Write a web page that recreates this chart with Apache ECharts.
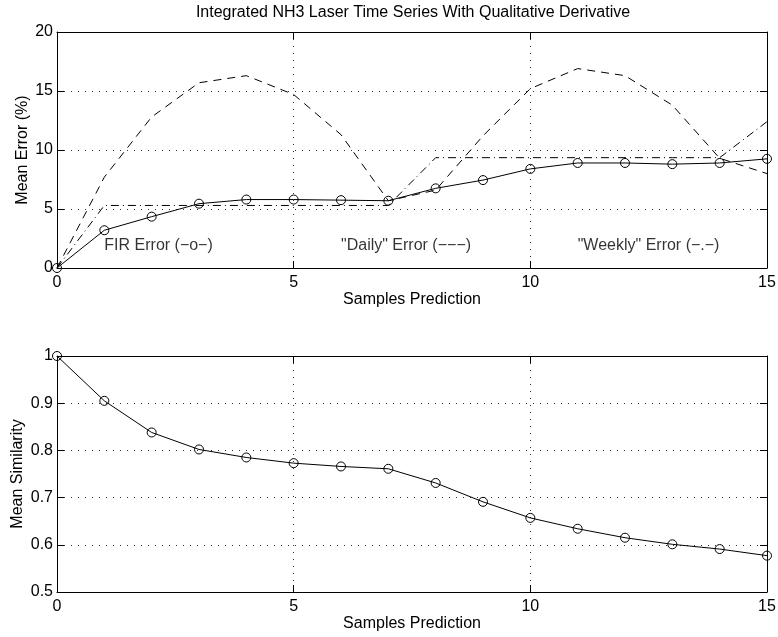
<!DOCTYPE html>
<html>
<head>
<meta charset="utf-8">
<title>Integrated NH3 Laser Time Series</title>
<script src="https://cdn.jsdelivr.net/npm/echarts@6/dist/echarts.min.js"></script>
<style>
  html, body { margin: 0; padding: 0; background: #fff; }
  #chart { width: 778px; height: 637px; }
</style>
</head>
<body>
<div id="chart"></div>
<script>
// prediction horizon (samples)
var steps = [0, 1, 2, 3, 4, 5, 6, 7, 8, 9, 10, 11, 12, 13, 14, 15];
// top plot: mean error (%)
var firError = [0, 3.2, 4.35, 5.45, 5.8, 5.8, 5.75, 5.7, 6.75, 7.45, 8.4, 8.9, 8.9, 8.8, 8.9, 9.25];
var dailyError = [0, 7.7, 12.8, 15.7, 16.3, 14.7, 11.3, 5.7, 6.6, 11.2, 15.2, 16.9, 16.3, 13.8, 9.3, 8.0];
var weeklyError = [0, 5.3, 5.3, 5.3, 5.3, 5.3, 5.3, 5.3, 9.35, 9.35, 9.35, 9.35, 9.35, 9.35, 9.35, 12.4];
// bottom plot: mean similarity
var similarity = [1.0, 0.905, 0.838, 0.802, 0.785, 0.773, 0.766, 0.761, 0.731, 0.691, 0.657, 0.634, 0.615, 0.601, 0.591, 0.577];
// in-plot annotations [x, y, text]
var notes = [
  [1, 1.9, 'FIR Error (\u2212o\u2212)'],
  [6, 1.9, '"Daily" Error (\u2212\u2212\u2212)'],
  [11, 1.9, '"Weekly" Error (\u2212.\u2212)']
];
var chartTitle = 'Integrated NH3 Laser Time Series With Qualitative Derivative';

var FONT = '"Liberation Sans", Arial, Helvetica, sans-serif';
var FS = 16;

function pairs(xs, ys) {
  var out = [];
  for (var i = 0; i < xs.length; i++) out.push([xs[i], ys[i]]);
  return out;
}

var gridLine = {
  show: true, showMinLine: false, showMaxLine: false,
  lineStyle: { color: '#333', type: [1, 6], width: 1 }
};

// one visible axis + one mirror axis (ticks only) per side, like matlab's box
function xAxes(gi, name) {
  var base = {
    type: 'value', gridIndex: gi, min: 0, max: 15, interval: 5,
    axisLine: { show: true, onZero: false, lineStyle: { color: '#000', width: 1 } },
    axisTick: { show: true, inside: true, length: 7, lineStyle: { color: '#000' } }
  };
  var bottom = Object.assign({}, base, {
    position: 'bottom', name: name, nameLocation: 'middle', nameGap: 24,
    nameMoveOverlap: false,
    nameTextStyle: { color: '#000', fontFamily: FONT, fontSize: FS },
    axisLabel: { color: '#000', fontFamily: FONT, fontSize: FS, margin: 7 },
    splitLine: gridLine
  });
  var top = Object.assign({}, base, {
    position: 'top', axisLabel: { show: false }, splitLine: { show: false }
  });
  return [bottom, top];
}

function yAxes(gi, name, min, max, step, gap) {
  var base = {
    type: 'value', gridIndex: gi, min: min, max: max, interval: step,
    axisLine: { show: true, onZero: false, lineStyle: { color: '#000', width: 1 } },
    axisTick: { show: true, inside: true, length: 7, lineStyle: { color: '#000' } }
  };
  var left = Object.assign({}, base, {
    position: 'left', name: name, nameLocation: 'middle', nameGap: gap,
    nameMoveOverlap: false,
    nameTextStyle: { color: '#000', fontFamily: FONT, fontSize: FS },
    axisLabel: { color: '#000', fontFamily: FONT, fontSize: FS, margin: 4 },
    splitLine: gridLine
  });
  var right = Object.assign({}, base, {
    position: 'right', axisLabel: { show: false }, splitLine: { show: false }
  });
  return [left, right];
}

function lineSeries(data, xi, yi, dash, marker) {
  return {
    type: 'line', xAxisIndex: xi, yAxisIndex: yi, data: data,
    symbol: marker ? 'circle' : 'none', symbolSize: 9, showSymbol: !!marker,
    itemStyle: { color: 'rgba(0,0,0,0)', borderColor: '#000', borderWidth: 1 },
    lineStyle: { color: '#000', width: 1, type: dash },
    silent: true, animation: false
  };
}

var noteSeries = {
  type: 'scatter', xAxisIndex: 0, yAxisIndex: 0, symbolSize: 0,
  data: notes.map(function (n) { return { value: [n[0], n[1]], name: n[2] }; }),
  label: {
    show: true, position: [0, 0], align: 'left', verticalAlign: 'middle',
    formatter: function (p) { return p.name; },
    color: '#000', fontFamily: FONT, fontSize: FS
  },
  silent: true, animation: false
};

var option = {
  backgroundColor: '#fff',
  animation: false,
  textStyle: { fontFamily: FONT },
  grid: [
    { left: 57, top: 32, width: 710, height: 236, containLabel: false, outerBoundsMode: 'none' },
    { left: 57, top: 356, width: 710, height: 236, containLabel: false, outerBoundsMode: 'none' }
  ],
  xAxis: xAxes(0, 'Samples Prediction').concat(xAxes(1, 'Samples Prediction')),
  yAxis: yAxes(0, 'Mean Error (%)', 0, 20, 5, 26).concat(yAxes(1, 'Mean Similarity', 0.5, 1, 0.1, 31)),
  graphic: [{
    type: 'text', x: 413, y: 13,
    style: {
      text: chartTitle, align: 'center', verticalAlign: 'middle',
      font: FS + 'px ' + FONT, fill: '#000'
    }
  }],
  series: [
    lineSeries(pairs(steps, dailyError), 0, 0, [8, 6], false),
    lineSeries(pairs(steps, weeklyError), 0, 0, [8, 4, 1, 4], false),
    lineSeries(pairs(steps, firError), 0, 0, 'solid', true),
    noteSeries,
    lineSeries(pairs(steps, similarity), 2, 2, 'solid', true)
  ]
};

var chart = echarts.init(document.getElementById('chart'), null, { renderer: 'canvas' });
chart.setOption(option);
</script>
</body>
</html>
